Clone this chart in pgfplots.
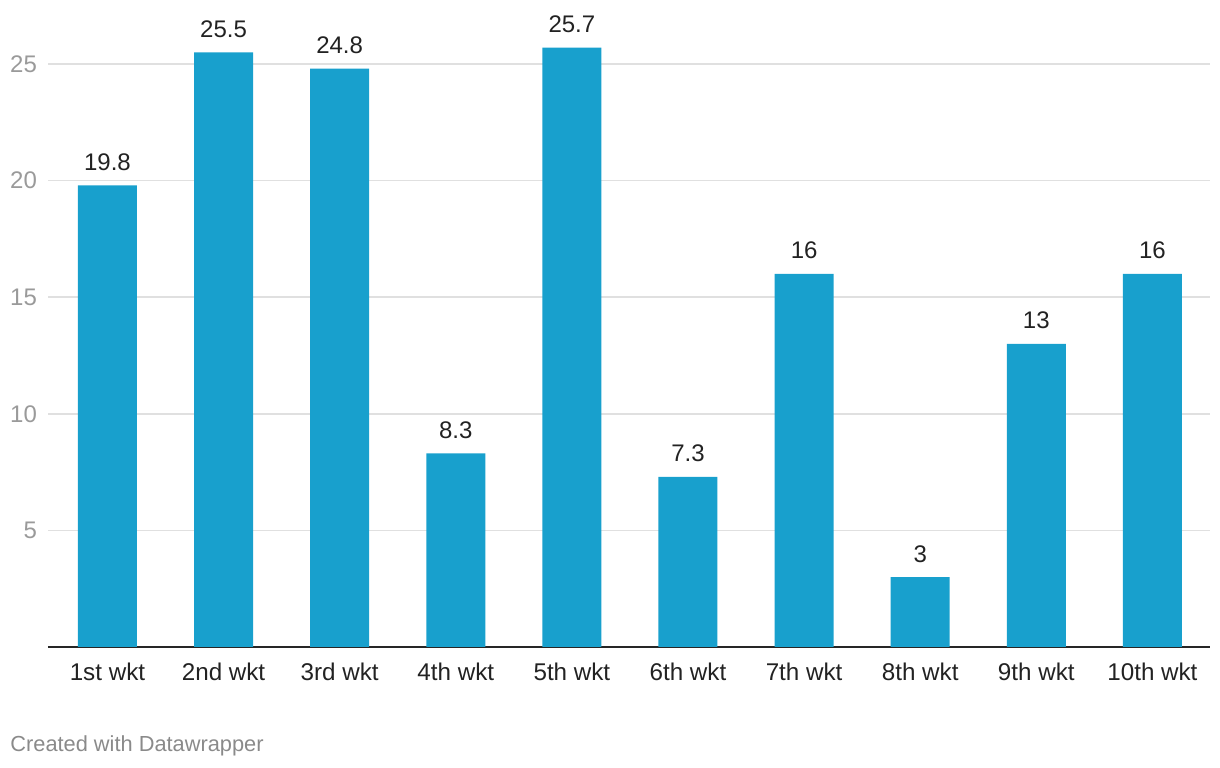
\documentclass[border=0pt]{standalone}
\usepackage{fontspec}
\setmainfont{Liberation Sans}
\usepackage{pgfplots}
\pgfplotsset{compat=1.18}
\definecolor{barblue}{HTML}{18A0CD}
\definecolor{tickgray}{HTML}{9A9A9A}
\definecolor{gridgray}{HTML}{E0E0E0}
\definecolor{labeltext}{HTML}{222222}
\definecolor{footgray}{HTML}{8A8A8A}
\begin{document}
\begin{tikzpicture}
\begin{axis}[
  name=ax,
  scale only axis,
  width=581pt, height=314.8pt,
  xmin=-0.512, xmax=9.496,
  ymin=0, ymax=27,
  /pgf/number format/assume math mode=true,
  xtick={0,...,9},
  xticklabels={1st wkt,2nd wkt,3rd wkt,4th wkt,5th wkt,6th wkt,7th wkt,8th wkt,9th wkt,10th wkt},
  ytick={5,10,15,20,25},
  major tick length=0pt,
  ymajorgrids,
  grid style={gridgray, line width=0.8pt},
  axis x line*=bottom,
  axis y line*=left,
  x axis line style={black!85, line width=1pt, -},
  y axis line style={draw=none},
  xticklabel style={font=\fontsize{12.1}{13}\selectfont, text=labeltext, anchor=north, yshift=-4.5pt},
  yticklabel style={font=\fontsize{12}{13}\selectfont, text=tickgray, anchor=east, xshift=-2pt},
  nodes near coords,
  nodes near coords style={font=\fontsize{12}{13}\selectfont, text=labeltext, anchor=base, inner sep=0pt, yshift=7.5pt},
  clip=false,
]
\addplot[ybar, bar width=29.5pt, fill=barblue, draw=none] coordinates {
  (0,19.8) (1,25.5) (2,24.8) (3,8.3) (4,25.7) (5,7.3) (6,16) (7,3) (8,13) (9,16)
};
\end{axis}
\node[anchor=base west, inner sep=0pt, text=footgray, font=\fontsize{10.9}{12}\selectfont] at ([shift={(-19pt,-52.5pt)}]ax.south west) {Created with Datawrapper};
\path[use as bounding box] ([shift={(-24pt,-60.5pt)}]ax.south west) rectangle ([shift={(5pt,8.7pt)}]ax.north east);
\end{tikzpicture}
\end{document}
